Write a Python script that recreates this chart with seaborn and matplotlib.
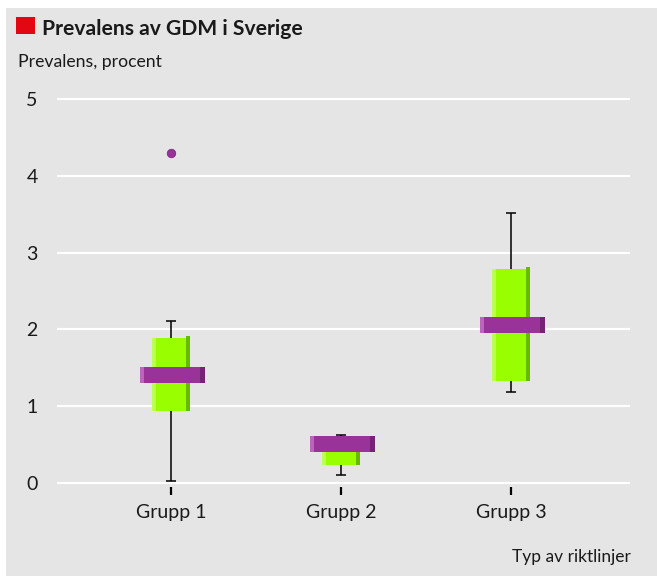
import numpy as np
import pandas as pd
import seaborn as sns
import matplotlib.pyplot as plt
from matplotlib.patches import Rectangle

# data
groups = ['Grupp 1', 'Grupp 2', 'Grupp 3']
whisker_low = [0.02, 0.11, 1.19]
q1 = [0.94, 0.24, 1.33]
median = [1.41, 0.51, 2.06]
q3 = [1.89, 0.58, 2.79]
whisker_high = [2.11, 0.63, 3.52]
outlier_group = ['Grupp 1']
outlier_value = [4.30]
yticks = [0, 1, 2, 3, 4, 5]

W, H = 657, 576
bg = '#e5e5e5'
lime, lime_light, lime_dark = '#99ff00', '#bbff55', '#66bb00'
purple, purple_light, purple_dark = '#993399', '#bb66bb', '#772277'

sns.set_theme(style='whitegrid')
plt.rcParams['font.family'] = ['Lato', 'DejaVu Sans']

fig = plt.figure(figsize=(W / 100, H / 100), dpi=100, facecolor='white')
fig.patches.append(Rectangle((6 / W, 0), 1 - 6 / W, (H - 8) / H,
                             transform=fig.transFigure, facecolor=bg,
                             edgecolor='none', zorder=-10))
fig.patches.append(Rectangle((16 / W, 1 - 34 / H), 19 / W, 17 / H,
                             transform=fig.transFigure, facecolor='#e30613',
                             edgecolor='none', zorder=1))

ax = fig.add_axes([57 / W, (H - 487) / H, (630 - 57) / W, (487 - 95) / H])
ax.set_facecolor(bg)
ax.set_zorder(2)

x = np.arange(len(groups))
box_w = 0.2235
strip = 4 / 170
med_w = 0.382
med_h = 0.204

# whiskers and caps
ax.vlines(x, whisker_low, q1, color='black', lw=1.1, zorder=2)
ax.vlines(x, q3, whisker_high, color='black', lw=1.1, zorder=2)
ax.hlines(whisker_low + whisker_high, np.r_[x, x] - 0.027, np.r_[x, x] + 0.027,
          color='black', lw=1.1, zorder=2)

# boxes with a light left and dark right edge
q1a, q3a = np.array(q1), np.array(q3)
ax.bar(x, q3a - q1a, bottom=q1a, width=box_w, color=lime, lw=0, zorder=3)
ax.bar(x - box_w / 2 + strip / 2, q3a - q1a, bottom=q1a, width=strip,
       color=lime_light, lw=0, zorder=4)
ax.bar(x + box_w / 2 - strip / 2, q3a - q1a + 0.02, bottom=q1a, width=strip,
       color=lime_dark, lw=0, zorder=4)

# median bars
meda = np.array(median)
mx = x + 0.01
ax.bar(mx, med_h, bottom=meda - med_h / 2, width=med_w, color=purple, lw=0, zorder=5)
ax.bar(mx - med_w / 2 + strip / 2, med_h, bottom=meda - med_h / 2, width=strip,
       color=purple_light, lw=0, zorder=6)
ax.bar(mx + med_w / 2 - 5 / 340, med_h, bottom=meda - med_h / 2, width=5 / 170,
       color=purple_dark, lw=0, zorder=6)

# outlier
out = pd.DataFrame({'x': [groups.index(g) for g in outlier_group], 'y': outlier_value})
sns.scatterplot(data=out, x='x', y='y', ax=ax, s=38, color=purple,
                edgecolor=purple_dark, linewidth=0.5, zorder=7, legend=False)

ax.set_xlim((57 - 171) / 170, (630 - 171) / 170)
ax.set_ylim(-4 / 76.8, 5 + 4 / 76.8)
ax.set_xticks(x)
ax.set_xticklabels(groups)
ax.set_yticks(yticks)
ax.set_yticklabels([str(v) for v in yticks])
ax.set_xlabel('')
ax.set_ylabel('')
ax.grid(axis='y', color='white', lw=1.6)
ax.grid(axis='x', visible=False)
for s in ax.spines.values():
    s.set_visible(False)
ax.tick_params(axis='x', length=6, width=1.6, color='black', pad=6,
               labelsize=14, labelcolor='#1a1a1a', bottom=True, direction='out')
ax.tick_params(axis='y', length=0, pad=14, labelsize=14, labelcolor='#1a1a1a')

fig.text(42 / W, 1 - 29 / H, 'Prevalens av GDM i Sverige', fontsize=15.2,
         fontweight='bold', color='#1a1a1a', va='center', ha='left')
fig.text(18 / W, 1 - 62 / H, 'Prevalens, procent', fontsize=12.7,
         color='#1a1a1a', va='center', ha='left')
fig.text(631 / W, 1 - 557 / H, 'Typ av riktlinjer', fontsize=12.5,
         color='#1a1a1a', va='center', ha='right')

fig.savefig('out.png', dpi=100, facecolor='white')
